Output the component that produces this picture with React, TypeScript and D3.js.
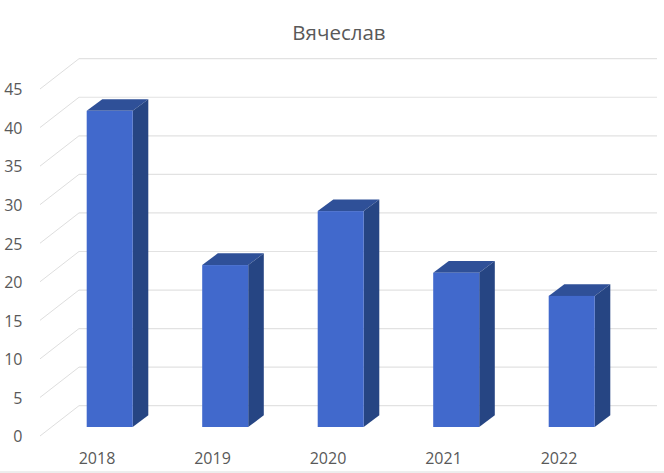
import React from "react";
import * as d3 from "d3";

const title = "Вячеслав";
const categories = ["2018", "2019", "2020", "2021", "2022"];
const values = [41, 21, 28, 20, 17];
const yTicks = [0, 5, 10, 15, 20, 25, 30, 35, 40, 45];

const W = 664;
const H = 473;
const depthX = 15.6;
const depthY = 11.7;
const barWidth = 46;

const yFront = d3.scaleLinear().domain([0, 45]).range([427, 80]);
const x = d3.scalePoint<string>().domain(categories).range([86.7, 548.7]);
const tickFrontX = 40;
const tickOffsetY = 9;
const backX = 79;
const backEndX = 657;
const backOffsetY = -21.3;

export default function App() {
  return (
    <svg
      width={W}
      height={H}
      viewBox={`0 0 ${W} ${H}`}
      style={{ position: "absolute", left: 0, top: 0, background: "#fff" }}
      fontFamily="'Open Sans', sans-serif"
    >
      <text x={339} y={40} textAnchor="middle" fontSize={20.5} fill="#595959">{title}</text>
      <line x1={0} x2={W} y1={472} y2={472} stroke="#dcdcdc" strokeWidth={1} />
      {yTicks.map((t) => {
        const y0 = yFront(t) + tickOffsetY;
        const y1 = yFront(t) + backOffsetY;
        return (
          <g key={t}>
            <line x1={tickFrontX} y1={y0} x2={backX} y2={y1} stroke="#dedede" strokeWidth={1} />
            <line x1={backX} y1={y1} x2={backEndX} y2={y1} stroke="#e2e2e2" strokeWidth={1.2} />
            <text x={22.5} y={y0 + 2} textAnchor="end" fontSize={16} fill="#595959" dominantBaseline="middle">{t}</text>
          </g>
        );
      })}
      {categories.map((c, i) => {
        const x0 = x(c)!;
        const x1 = x0 + barWidth;
        const yTop = yFront(values[i]);
        const yBase = yFront(0);
        const top = d3.path();
        top.moveTo(x0, yTop);
        top.lineTo(x0 + depthX, yTop - depthY);
        top.lineTo(x1 + depthX, yTop - depthY);
        top.lineTo(x1, yTop);
        top.closePath();
        const side = d3.path();
        side.moveTo(x1, yTop);
        side.lineTo(x1 + depthX, yTop - depthY);
        side.lineTo(x1 + depthX, yBase - depthY);
        side.lineTo(x1, yBase);
        side.closePath();
        return (
          <g key={c}>
            <path d={top.toString()} fill="#2f5098" />
            <path d={side.toString()} fill="#264583" />
            <rect x={x0} y={yTop} width={barWidth} height={yBase - yTop} fill="#4169cc" />
            <text x={x0 + 10.3} y={464} textAnchor="middle" fontSize={16} fill="#595959">{c}</text>
          </g>
        );
      })}
    </svg>
  );
}
